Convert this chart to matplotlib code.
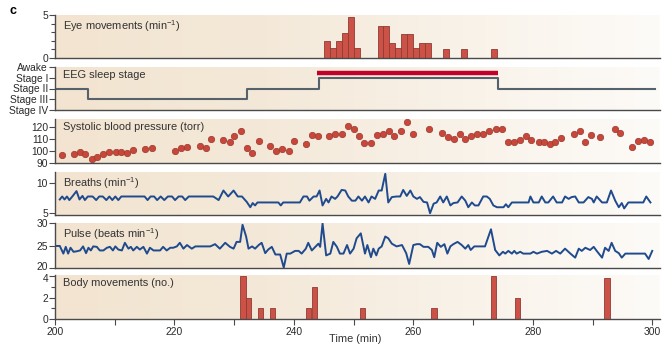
import numpy as np
import matplotlib
matplotlib.use("Agg")
import matplotlib.pyplot as plt
from matplotlib.colors import LinearSegmentedColormap
from matplotlib.ticker import MultipleLocator
from matplotlib.transforms import ScaledTranslation

plt.rcParams['font.family'] = ['Liberation Sans', 'DejaVu Sans']
plt.rcParams['mathtext.fontset'] = 'custom'
plt.rcParams['mathtext.rm'] = 'Liberation Sans'
plt.rcParams['mathtext.it'] = 'Liberation Sans'

# ---- data ----
eye_t = [245, 246, 247, 248, 249, 250, 254, 255, 256, 257, 258, 259, 260, 261, 262, 265, 268, 273]
eye_v = [2.0, 1.2, 2.0, 2.9, 4.8, 1.2, 3.7, 3.7, 1.8, 1.2, 2.8, 2.8, 1.2, 1.8, 1.8, 1.1, 1.1, 1.0]

stage_labels = ['Awake', 'Stage I', 'Stage II', 'Stage III', 'Stage IV']
stage_t = [200, 205.5, 232.2, 244.2, 274.1, 300.4]
stage_v = [2, 3, 2, 1, 2, 2]
rem_start, rem_end = 243.9, 274.2

sbp_t = [201.1, 203.1, 204.2, 205.1, 206.2, 207.1, 208.1, 209.1, 210.2, 211.1, 212.0, 213.1, 215.0, 216.2,
         220.1, 221.1, 222.1, 224.2, 225.2, 226.1, 228.1, 229.3, 230.0, 231.2, 232.1, 233.0, 234.1, 236.0,
         237.0, 238.0, 239.1, 240.0, 242.0, 243.0, 244.0, 245.9, 246.9, 248.1, 249.0, 250.0, 250.9, 251.8,
         252.9, 253.9, 254.9, 255.9, 256.8, 258.0, 258.9, 259.9, 262.7, 264.8, 265.8, 266.8, 267.8, 268.7,
         269.7, 270.6, 271.7, 272.7, 273.8, 274.8, 275.8, 276.9, 277.9, 278.8, 279.7, 281.0, 281.8, 282.8,
         283.8, 284.8, 286.9, 287.9, 288.7, 289.7, 291.2, 293.7, 294.6, 296.6, 297.7, 298.7, 299.7]
sbp_v = [96.3, 97.4, 99.0, 97.6, 93.3, 94.6, 97.9, 99.0, 99.5, 99.5, 98.7, 100.6, 101.7, 102.3,
         100.4, 102.5, 103.6, 104.2, 102.5, 110.4, 109.3, 107.4, 112.6, 116.4, 102.3, 98.7, 108.3, 104.2,
         100.4, 102.0, 100.4, 108.3, 106.1, 113.2, 112.3, 112.3, 114.5, 114.5, 120.5, 118.1, 112.6, 106.3,
         106.3, 113.2, 114.5, 116.7, 112.6, 116.4, 124.0, 114.5, 118.1, 115.3, 111.8, 109.9, 114.5, 110.4,
         112.6, 114.0, 114.0, 116.4, 118.6, 118.1, 107.7, 107.7, 109.1, 112.3, 109.6, 107.7, 107.7, 105.8,
         107.7, 111.0, 114.5, 116.4, 107.7, 113.2, 111.8, 118.6, 115.0, 103.6, 108.5, 109.6, 107.7]

breaths_t = [200.8, 201.2, 201.6, 202.0, 202.4, 202.9, 203.6, 204.1, 204.6, 205.0, 205.5, 206.3, 206.9, 207.4,
             208.0, 208.6, 209.1, 209.6, 210.1, 210.6, 211.1, 215.0, 215.5, 216.0, 216.6, 217.1, 217.7, 218.3,
             218.9, 219.6, 220.1, 220.7, 221.3, 221.8, 222.4, 226.5, 227.4, 228.2, 229.0, 229.9, 230.6, 231.3,
             232.1, 232.7, 233.1, 233.5, 233.9, 237.4, 237.8, 238.2, 241.0, 241.6, 242.2, 242.6, 243.3, 243.8,
             244.3, 244.8, 245.4, 245.8, 246.3, 246.9, 247.3, 248.0, 248.6, 249.1, 249.7, 250.3, 250.8, 251.4,
             251.9, 252.5, 253.0, 253.6, 254.2, 254.7, 255.3, 255.8, 256.4, 257.2, 257.8, 258.3, 258.9, 259.5,
             260.0, 260.6, 261.1, 261.7, 262.3, 262.8, 263.4, 263.9, 264.5, 265.0, 265.6, 266.2, 266.7, 267.4,
             268.1, 268.7, 269.2, 269.8, 270.3, 270.9, 271.7, 272.3, 272.8, 273.4, 274.0, 275.1, 275.5, 275.9,
             276.5, 279.3, 279.6, 280.1, 281.0, 281.5, 282.1, 282.6, 283.4, 284.0, 284.9, 285.4, 286.0, 286.5,
             287.1, 287.7, 288.5, 289.3, 289.9, 290.2, 290.7, 291.6, 292.4, 293.1, 293.8, 294.4, 294.9, 295.3,
             296.0, 298.5, 299.0, 299.7]
breaths_v = [7.3, 7.8, 7.3, 7.8, 7.2, 7.8, 8.7, 7.3, 7.9, 7.2, 7.8, 7.8, 7.2, 7.8,
             7.8, 7.2, 7.8, 7.2, 7.8, 7.2, 7.8, 7.8, 7.2, 7.8, 7.8, 7.2, 7.8, 7.2,
             7.8, 7.8, 7.2, 7.8, 7.8, 7.2, 7.8, 7.8, 7.2, 8.8, 7.8, 8.8, 7.8, 7.8,
             6.9, 6.0, 6.7, 6.3, 6.8, 6.8, 6.3, 6.8, 6.8, 7.8, 7.8, 7.1, 7.8, 7.8,
             8.8, 6.3, 7.4, 6.8, 7.8, 7.4, 7.8, 8.9, 8.8, 7.8, 7.1, 7.1, 7.8, 7.1,
             7.8, 6.8, 7.8, 7.4, 8.8, 8.8, 11.6, 6.8, 7.7, 7.8, 7.8, 8.9, 7.9, 8.8,
             7.8, 7.4, 7.7, 6.9, 6.8, 5.0, 6.6, 6.8, 7.8, 6.8, 7.8, 6.3, 6.7, 6.8,
             7.8, 7.1, 6.0, 6.8, 6.3, 6.3, 7.8, 7.8, 7.4, 6.3, 6.0, 6.0, 6.5, 6.0,
             6.8, 6.8, 7.8, 6.8, 6.8, 7.8, 6.8, 6.8, 7.8, 6.8, 6.8, 7.8, 7.4, 7.7,
             7.8, 6.8, 6.8, 7.7, 7.4, 6.8, 7.8, 6.8, 6.8, 8.8, 7.1, 6.0, 6.7, 5.8,
             6.8, 6.8, 7.8, 6.8]

pulse_t = [200.0, 200.8, 201.4, 201.8, 202.2, 202.6, 203.1, 203.6, 204.2, 204.7, 205.2, 205.6, 206.0, 206.4,
           207.0, 207.5, 208.1, 208.7, 209.2, 209.7, 210.1, 210.6, 211.2, 211.7, 212.3, 212.7, 213.1, 213.7,
           214.2, 214.8, 215.4, 215.9, 216.5, 217.6, 218.1, 218.7, 219.3, 219.8, 220.4, 220.9, 221.5, 222.1,
           222.9, 223.5, 226.0, 226.8, 227.6, 228.5, 229.3, 229.9, 230.4, 231.0, 231.4, 232.0, 232.4, 233.0,
           233.5, 234.1, 234.6, 235.2, 235.7, 236.3, 236.9, 237.7, 238.3, 238.8, 239.4, 240.2, 240.8, 241.3,
           242.0, 242.4, 243.0, 243.6, 244.1, 244.4, 244.8, 245.4, 246.1, 246.6, 247.2, 247.7, 248.3, 248.9,
           249.4, 250.0, 250.5, 251.2, 251.9, 252.3, 252.9, 253.3, 253.8, 254.2, 254.7, 255.3, 255.8, 256.4,
           257.2, 258.1, 258.8, 259.3, 260.0, 260.6, 261.1, 261.7, 262.5, 263.1, 263.5, 264.0, 264.6, 265.2,
           265.7, 266.2, 266.7, 267.4, 268.1, 268.7, 269.2, 269.6, 270.2, 272.0, 273.0, 273.7, 274.4, 275.0,
           275.4, 275.9, 276.5, 276.9, 277.3, 277.9, 278.4, 279.6, 280.1, 280.7, 281.5, 282.4, 283.2, 283.9,
           284.6, 285.4, 286.3, 287.1, 287.7, 288.2, 288.8, 289.6, 290.2, 290.7, 291.6, 292.1, 292.7, 293.2,
           293.8, 294.4, 294.9, 295.5, 298.8, 299.4, 300.0]
pulse_v = [24.9, 24.9, 23.2, 24.7, 23.2, 24.5, 23.6, 23.7, 23.9, 24.8, 23.3, 24.5, 23.9, 24.8,
           24.7, 23.9, 23.9, 24.5, 24.7, 23.9, 24.8, 24.1, 23.9, 25.6, 24.3, 24.7, 23.9, 24.7,
           24.1, 24.7, 23.2, 24.5, 23.9, 23.9, 24.7, 23.9, 24.5, 24.5, 24.8, 25.6, 24.3, 25.1,
           24.3, 24.8, 24.8, 25.3, 24.3, 25.6, 24.7, 24.3, 25.8, 25.8, 29.6, 27.0, 24.3, 24.8,
           24.3, 25.1, 25.6, 23.3, 24.1, 24.7, 23.0, 23.0, 20.1, 23.2, 23.2, 23.8, 23.8, 23.2,
           24.3, 25.6, 23.9, 24.7, 25.4, 24.7, 29.9, 22.8, 23.2, 25.8, 24.7, 23.2, 23.2, 25.1,
           23.2, 24.3, 26.6, 27.7, 23.2, 25.1, 22.4, 24.3, 22.8, 24.3, 24.8, 27.0, 26.6, 25.4,
           24.8, 25.1, 23.3, 20.9, 25.1, 25.3, 25.3, 24.7, 24.7, 24.0, 22.4, 25.6, 24.7, 25.3,
           23.2, 24.8, 25.3, 25.8, 25.1, 24.3, 25.1, 24.0, 24.8, 24.8, 28.6, 24.0, 22.8, 23.6,
           23.2, 23.8, 23.2, 23.8, 23.2, 23.6, 23.2, 23.2, 23.6, 23.2, 23.6, 23.8, 23.2, 23.8,
           23.2, 24.3, 23.2, 22.3, 24.3, 23.8, 24.5, 24.0, 24.7, 23.8, 22.3, 24.5, 23.8, 25.6,
           23.8, 23.3, 22.3, 23.2, 23.2, 22.0, 23.8]

body_t = [231, 232, 234, 236, 242, 243, 251, 263, 273, 277, 292]
body_v = [4, 2, 1, 1, 1, 3, 1, 1, 4, 2, 3.8]

# ---- style ----
bar_col = '#cc5247'
bar_edge = '#8e3b33'
line_col = '#1f4b8e'
spine_col = '#4a4a4a'
bg_cmap = LinearSegmentedColormap.from_list(
    'bg', [(0, '#f2e4d0'), (0.35, '#f4e9d9'), (1, '#fdfbf8')])

W, H = 662, 347
fig = plt.figure(figsize=(W / 100, H / 100), dpi=100)


def panel(top, bottom, ylim, label, xticks=False):
    ax = fig.add_axes([55 / W, 1 - bottom / H, 605 / W, (bottom - top) / H])
    grad = np.linspace(0, 1, 256).reshape(1, -1)
    ax.imshow(grad, cmap=bg_cmap, extent=[0, 1, 0, 1], transform=ax.transAxes,
              aspect='auto', zorder=0)
    ax.set_xlim(200, 301.3)
    ax.set_ylim(*ylim)
    for s in ['top', 'right']:
        ax.spines[s].set_visible(False)
    for s in ['left', 'bottom']:
        ax.spines[s].set_color(spine_col)
        ax.spines[s].set_linewidth(1.0)
    ax.tick_params(axis='y', which='both', direction='out', length=4, width=0.8,
                   color=spine_col, labelsize=7.4, pad=1, labelcolor='#2a2a2a')
    ax.tick_params(axis='y', which='minor', length=3)
    if xticks:
        ax.xaxis.set_major_locator(MultipleLocator(20))
        ax.xaxis.set_minor_locator(MultipleLocator(10))
        ax.tick_params(axis='x', which='both', direction='out', length=4, width=0.8,
                       color=spine_col, labelsize=7.4, pad=2, labelcolor='#2a2a2a')
    else:
        ax.set_xticks([])
    ax.text(8 / 605, 0.93, label, transform=ax.transAxes, ha='left', va='top',
            fontsize=7.9, color='#333333')
    return ax


def nudge(label, dy_px):
    # shift a tick label vertically by a few pixels
    label.set_transform(label.get_transform() + ScaledTranslation(0, dy_px / 100, fig.dpi_scale_trans))


# eye movements
ax1 = panel(15, 58, (0, 5), 'Eye movements (min$^{-1}$)')
ax1.bar(eye_t, eye_v, width=1.0, align='edge', color=bar_col, edgecolor=bar_edge,
        linewidth=0.6, zorder=2)
ax1.set_yticks([0, 5])
ax1.yaxis.set_minor_locator(MultipleLocator(1))

# EEG sleep stage
ax2 = panel(67, 110, (4, 0), 'EEG sleep stage')
ax2.step(stage_t, stage_v, where='post', color='#56626b', lw=1.5, zorder=2)
ax2.hlines(0.55, rem_start, rem_end, color='#c0022b', lw=3.2, zorder=3)
ax2.set_yticks(range(5))
ax2.set_yticklabels(stage_labels)

# systolic blood pressure
ax3 = panel(119, 163, (90, 126.7), 'Systolic blood pressure (torr)')
ax3.plot(sbp_t, sbp_v, 'o', ms=4.6, color='#c9463b', mec='#9a3a30', mew=0.5, zorder=2)
ax3.set_yticks([90, 100, 110, 120])

# breaths
ax4 = panel(172, 215, (4.7, 11.9), 'Breaths (min$^{-1}$)')
ax4.plot(breaths_t, breaths_v, color=line_col, lw=1.4, zorder=2)
ax4.set_yticks([5, 10])

# pulse
ax5 = panel(223, 268, (20, 30), 'Pulse (beats min$^{-1}$)')
ax5.plot(pulse_t, pulse_v, color=line_col, lw=1.4, zorder=2)
ax5.set_yticks([20, 25, 30])
nudge(ax5.yaxis.get_major_ticks()[0].label1, 2)

# body movements
ax6 = panel(275, 319, (0, 4.1), 'Body movements (no.)', xticks=True)
ax6.bar(body_t, body_v, width=0.9, align='edge', color=bar_col, edgecolor=bar_edge,
        linewidth=0.6, zorder=2)
ax6.set_yticks([0, 2, 4])
ax6.yaxis.set_minor_locator(MultipleLocator(1))
nudge(ax6.yaxis.get_major_ticks()[2].label1, -1.5)

fig.text(355 / W, 1 - 339 / H, 'Time (min)', fontsize=7.9, color='#333333',
         ha='center', va='center')
fig.text(10 / W, 1 - 11 / H, 'c', fontsize=9, fontweight='bold', va='center')

fig.savefig('out.png', dpi=100)
